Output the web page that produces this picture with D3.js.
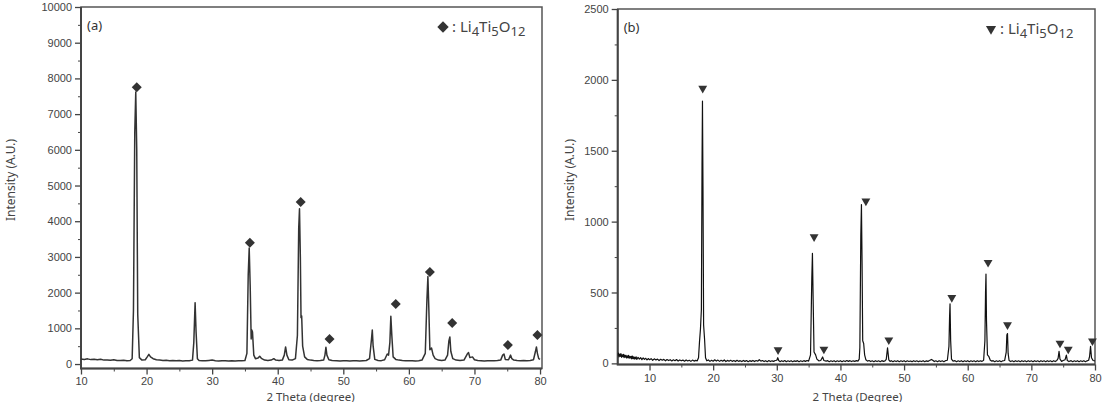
<!DOCTYPE html>
<html>
<head>
<meta charset="utf-8">
<script src="https://cdn.jsdelivr.net/npm/d3@7"></script>
<style>
  body { margin: 0; background: #fff; }
  svg { display: block; font-family: "Noto Sans", "Open Sans", sans-serif; }
  .tick text { fill: #444; font-size: 11px; }
  .tick line { stroke: #444; }
</style>
</head>
<body>
<div id="chart"></div>
<script>
// XRD patterns: [2 theta, intensity]
var profileA = [
  [10.0,140],[10.5,128],[11.0,145],[11.5,124],[12.0,132],[12.5,118],[13.0,134],[13.5,110],[14.0,116],[14.5,104],
  [15.0,120],[15.5,100],[16.0,96],[16.5,106],[17.0,90],[17.5,100],[17.8,150],[18.0,1500],[18.2,6500],[18.35,7620],
  [18.5,6000],[18.65,1400],[18.9,180],[19.3,110],[19.8,120],[20.1,200],[20.35,270],[20.6,200],[21.0,150],[21.5,120],
  [22.0,110],[22.5,100],[23.0,106],[23.5,94],[24.0,100],[24.5,90],[25.0,96],[25.5,88],[26.0,95],[26.5,90],
  [27.0,110],[27.2,600],[27.4,1720],[27.55,900],[27.75,150],[28.0,100],[28.5,94],[29.0,90],[29.5,100],[30.0,110],
  [30.5,95],[31.0,88],[31.5,95],[32.0,90],[32.5,84],[33.0,92],[33.5,88],[34.0,95],[34.5,90],[35.0,100],
  [35.3,300],[35.5,2500],[35.65,3250],[35.8,2200],[35.95,700],[36.05,950],[36.15,900],[36.35,250],[36.6,150],[37.0,170],
  [37.25,220],[37.5,160],[38.0,110],[38.5,100],[39.0,110],[39.4,150],[39.7,110],[40.2,100],[40.7,110],[41.0,250],
  [41.2,480],[41.4,250],[41.7,120],[42.2,110],[42.7,150],[43.0,800],[43.2,3800],[43.32,4350],[43.45,3000],[43.55,1300],
  [43.65,1350],[43.8,500],[44.1,200],[44.5,130],[45.0,110],[45.5,100],[46.0,95],[46.5,100],[47.0,110],[47.2,250],
  [47.35,470],[47.5,250],[47.8,120],[48.3,100],[49.0,95],[49.5,88],[50.0,95],[50.5,90],[51.0,84],[51.5,90],
  [52.0,95],[52.5,88],[53.0,95],[53.5,100],[54.0,150],[54.3,700],[54.42,950],[54.55,500],[54.8,130],[55.3,100],
  [55.8,95],[56.3,120],[56.7,280],[56.9,250],[57.1,600],[57.25,1340],[57.4,800],[57.6,200],[58.0,130],[58.5,110],
  [59.0,100],[59.5,95],[60.0,90],[60.5,95],[61.0,88],[61.5,95],[62.0,110],[62.5,300],[62.75,1800],[62.9,2450],
  [63.05,1500],[63.2,400],[63.45,450],[63.7,250],[64.0,150],[64.5,110],[65.0,100],[65.5,110],[65.9,250],[66.1,650],
  [66.25,760],[66.4,350],[66.7,150],[67.2,110],[67.8,100],[68.4,110],[68.9,280],[69.1,320],[69.3,180],[69.7,200],
  [70.0,120],[70.5,100],[71.0,95],[71.5,88],[72.0,95],[72.5,90],[73.0,95],[73.5,100],[74.0,110],[74.3,250],
  [74.5,280],[74.7,130],[75.2,120],[75.5,250],[75.7,150],[76.0,110],[76.5,100],[77.0,95],[77.5,100],[78.0,95],
  [78.5,100],[79.0,120],[79.3,350],[79.45,480],[79.6,300],[79.8,150],[80.0,130]
];
var markersA = [[18.5,7750],[35.75,3400],[43.5,4540],[47.9,700],[58.0,1680],[63.2,2580],[66.6,1150],[75.1,530],[79.6,810]];

var profileB = [
  [5.0,55],[5.1,72],[5.2,46],[5.3,66],[5.4,50],[5.5,69],[5.6,43],[5.7,61],[5.8,48],[5.9,63],
  [6.0,41],[6.1,59],[6.2,44],[6.3,56],[6.4,38],[6.5,53],[6.6,40],[6.7,57],[6.8,36],[6.9,50],
  [7.0,38],[7.1,49],[7.2,32],[7.3,52],[7.4,34],[7.5,46],[7.6,30],[7.7,44],[7.8,33],[7.9,46],
  [8.0,28],[8.2,42],[8.4,30],[8.6,40],[8.8,26],[9.0,38],[9.2,28],[9.4,36],[9.6,24],[9.8,34],
  [10.0,26],[10.25,33],[10.5,22],[10.75,32],[11.0,24],[11.25,30],[11.5,20],[11.75,29],[12.0,22],[12.25,28],
  [12.5,18],[12.75,27],[13.0,20],[13.25,26],[13.5,17],[13.75,25],[14.0,19],[14.25,27],[14.5,16],[14.75,24],
  [15.0,18],[15.25,23],[15.5,15],[15.75,24],[16.0,17],[16.25,22],[16.5,14],[16.75,23],[17.0,16],[17.25,21],
  [17.5,18],[17.7,40],[17.85,150],[18.0,240],[18.15,380],[18.25,1400],[18.32,1850],[18.4,1250],[18.5,270],[18.65,170],
  [18.8,40],[19.0,18],[19.25,24],[19.5,14],[19.75,22],[20.0,15],[20.25,25],[20.5,16],[20.75,23],[21.0,14],
  [21.25,22],[21.5,15],[21.75,24],[22.0,13],[22.25,21],[22.5,15],[22.75,22],[23.0,14],[23.25,20],[23.5,13],
  [23.75,22],[24.0,14],[24.25,19],[24.5,13],[24.75,21],[25.0,14],[25.25,20],[25.5,12],[25.75,19],[26.0,14],
  [26.25,21],[26.5,13],[26.75,20],[27.0,15],[27.25,26],[27.5,16],[27.75,20],[28.0,13],[28.25,19],[28.5,12],
  [28.75,20],[29.0,13],[29.25,18],[29.5,14],[29.75,20],[30.0,22],[30.15,40],[30.3,20],[30.5,12],[30.75,19],
  [31.0,13],[31.25,20],[31.5,12],[31.75,18],[32.0,13],[32.25,19],[32.5,12],[32.75,18],[33.0,14],[33.25,19],
  [33.5,12],[33.75,18],[34.0,13],[34.25,19],[34.5,14],[34.75,20],[35.0,16],[35.3,60],[35.5,600],[35.6,776],
  [35.7,480],[35.85,80],[36.1,60],[36.3,30],[36.6,18],[36.9,20],[37.2,45],[37.4,20],[37.75,16],[38.0,19],
  [38.25,12],[38.5,18],[38.75,13],[39.0,19],[39.25,12],[39.5,18],[39.75,13],[40.0,19],[40.25,12],[40.5,18],
  [40.75,13],[41.0,20],[41.25,14],[41.5,19],[41.75,13],[42.0,18],[42.25,14],[42.5,19],[42.75,16],[42.95,30],
  [43.05,110],[43.2,900],[43.3,1120],[43.4,700],[43.5,160],[43.65,140],[43.8,60],[44.0,25],[44.25,16],[44.5,20],
  [44.75,13],[45.0,18],[45.25,12],[45.5,19],[45.75,13],[46.0,18],[46.25,12],[46.5,19],[46.75,14],[47.0,18],
  [47.2,28],[47.4,110],[47.6,25],[47.8,14],[48.0,19],[48.25,12],[48.5,18],[48.75,13],[49.0,19],[49.25,12],
  [49.5,18],[49.75,13],[50.0,19],[50.25,12],[50.5,18],[50.75,13],[51.0,17],[51.25,12],[51.5,19],[51.75,13],
  [52.0,18],[52.25,12],[52.5,17],[52.75,13],[53.0,19],[53.25,12],[53.5,18],[53.75,14],[54.0,20],[54.3,28],
  [54.5,22],[54.75,13],[55.0,18],[55.25,12],[55.5,19],[55.75,13],[56.0,18],[56.25,12],[56.5,19],[56.8,22],
  [57.05,120],[57.15,330],[57.22,420],[57.32,160],[57.45,30],[57.7,16],[58.0,19],[58.25,12],[58.5,18],[58.75,13],
  [59.0,19],[59.25,12],[59.5,18],[59.75,13],[60.0,19],[60.25,12],[60.5,18],[60.75,13],[61.0,18],[61.25,12],
  [61.5,19],[61.75,13],[62.0,18],[62.25,14],[62.5,22],[62.7,160],[62.8,500],[62.87,630],[62.95,300],[63.1,60],
  [63.3,50],[63.55,22],[63.8,16],[64.0,19],[64.25,12],[64.5,18],[64.75,13],[65.0,19],[65.25,12],[65.5,18],
  [65.8,20],[66.05,80],[66.15,200],[66.25,210],[66.35,70],[66.5,20],[66.75,13],[67.0,18],[67.25,12],[67.5,19],
  [67.75,13],[68.0,18],[68.25,12],[68.5,19],[68.75,13],[69.0,18],[69.25,12],[69.5,19],[69.75,13],[70.0,18],
  [70.25,12],[70.5,19],[70.75,13],[71.0,18],[71.25,12],[71.5,19],[71.75,13],[72.0,18],[72.25,12],[72.5,19],
  [72.75,13],[73.0,18],[73.25,12],[73.5,19],[73.75,13],[74.0,20],[74.2,35],[74.35,85],[74.5,30],[74.75,14],
  [75.0,20],[75.3,26],[75.5,58],[75.65,20],[75.9,13],[76.25,19],[76.5,12],[76.75,18],[77.0,13],[77.25,19],
  [77.5,12],[77.75,18],[78.0,13],[78.25,19],[78.5,12],[78.75,18],[79.0,22],[79.15,50],[79.3,120],[79.45,40],
  [79.7,20],[80.0,18]
];
var markersB = [[18.36,1940],[30.2,95],[35.86,892],[37.4,100],[44.0,1145],[47.6,165],[57.5,464],[63.2,712],[66.25,272],[74.5,142],[75.8,100],[79.6,158]];

var xTicksA = [10,20,30,40,50,60,70,80];
var yTicksA = [0,1000,2000,3000,4000,5000,6000,7000,8000,9000,10000];
var xTicksB = [10,20,30,40,50,60,70,80];
var yTicksB = [0,500,1000,1500,2000,2500];

var svg = d3.select("#chart").append("svg")
  .attr("width", 1104)
  .attr("height", 402);

function drawPanel(p) {
  var x = d3.scaleLinear().domain(p.xDomain).range(p.xRange);
  var y = d3.scaleLinear().domain(p.yDomain).range(p.yRange);
  var g = svg.append("g");

  // clip so the pattern stays in the frame
  g.append("clipPath").attr("id", p.id + "clip")
    .append("rect")
    .attr("x", p.xRange[0]).attr("y", p.yRange[1])
    .attr("width", p.xRange[1] - p.xRange[0])
    .attr("height", p.yRange[0] - p.yRange[1]);

  // minor ticks
  g.append("g")
    .attr("transform", `translate(0,${p.yRange[0]})`)
    .call(d3.axisBottom(x).tickValues(p.xMinor).tickSize(3).tickFormat(""))
    .call(a => a.select(".domain").remove());
  g.append("g")
    .attr("transform", `translate(${p.xRange[0]},0)`)
    .call(d3.axisLeft(y).tickValues(p.yMinor).tickSize(3).tickFormat(""))
    .call(a => a.select(".domain").remove());

  // major ticks
  g.append("g")
    .attr("transform", `translate(0,${p.yRange[0]})`)
    .call(d3.axisBottom(x).tickValues(p.xTicks).tickSize(6).tickPadding(p.xPad).tickFormat(d3.format("d")))
    .call(a => a.select(".domain").remove())
    .selectAll("line").attr("stroke-width", 1.3);
  g.append("g")
    .attr("transform", `translate(${p.xRange[0]},0)`)
    .call(d3.axisLeft(y).tickValues(p.yTicks).tickSize(6).tickPadding(3).tickFormat(d3.format("d")))
    .call(a => a.select(".domain").remove())
    .selectAll("line").attr("stroke-width", 1.3);

  // frame
  g.append("rect")
    .attr("x", p.xRange[0]).attr("y", p.yRange[1])
    .attr("width", p.xRange[1] - p.xRange[0])
    .attr("height", p.yRange[0] - p.yRange[1])
    .attr("fill", "none").attr("stroke", "#555").attr("stroke-width", 1.5);
  g.append("path")
    .attr("d", `M${p.xRange[0]},${p.yRange[1]}V${p.yRange[0]}H${p.xRange[1]}`)
    .attr("fill", "none").attr("stroke", "#444").attr("stroke-width", 2);

  var line = d3.line().x(d => x(d[0])).y(d => y(d[1]));
  g.append("path")
    .datum(p.profile)
    .attr("clip-path", `url(#${p.id}clip)`)
    .attr("d", line)
    .attr("fill", "none")
    .attr("stroke", p.lineColor)
    .attr("stroke-width", p.lineWidth)
    .attr("stroke-linejoin", "round");

  // peak markers
  g.selectAll(".mk")
    .data(p.markers)
    .enter().append("path")
    .attr("transform", d => `translate(${x(d[0])},${y(d[1])}) rotate(${p.markerRotate})`)
    .attr("d", d3.symbol().type(p.markerType).size(p.markerSize))
    .attr("fill", "#333");

  // panel tag
  g.append("text")
    .attr("x", p.xRange[0] + 6).attr("y", p.yRange[1] + 23)
    .attr("font-size", 13).attr("fill", "#333")
    .text(p.tag);

  // legend
  var lx = p.legendX, ly = p.yRange[1] + 25;
  g.append("path")
    .attr("transform", `translate(${lx},${ly - 5}) rotate(${p.markerRotate})`)
    .attr("d", d3.symbol().type(p.markerType).size(p.markerSize * 1.3))
    .attr("fill", "#333");
  var t = g.append("text")
    .attr("x", lx + 9).attr("y", ly)
    .attr("font-size", 15).attr("fill", "#444");
  t.append("tspan").text(": Li");
  t.append("tspan").attr("dy", 4).attr("font-size", 13).text("4");
  t.append("tspan").attr("dy", -4).text("Ti");
  t.append("tspan").attr("dy", 4).attr("font-size", 13).text("5");
  t.append("tspan").attr("dy", -4).text("O");
  t.append("tspan").attr("dy", 4).attr("font-size", 13).text("12");

  // axis titles
  g.append("text")
    .attr("transform", `translate(${p.yTitleX},${p.yTitleY}) rotate(-90)`)
    .attr("text-anchor", "middle")
    .attr("font-size", 12).attr("fill", "#444")
    .text("Intensity (A.U.)");
  g.append("text")
    .attr("x", (p.xRange[0] + p.xRange[1]) / 2 + p.xTitleShift)
    .attr("y", p.xTitleY)
    .attr("text-anchor", "middle")
    .attr("font-size", 11.5).attr("fill", "#444")
    .text(p.xTitle);
}

drawPanel({
  id: "a", tag: "(a)",
  xDomain: [10, 80.3], xRange: [81, 542],
  yDomain: [-125, 10000], yRange: [368.5, 7],
  xTicks: xTicksA, xMinor: [15,25,35,45,55,65,75], xPad: 3,
  yTicks: yTicksA, yMinor: [500,1500,2500,3500,4500,5500,6500,7500,8500,9500],
  profile: profileA, lineColor: "#333", lineWidth: 1.5,
  markers: markersA, markerType: d3.symbolSquare, markerRotate: 45, markerSize: 50,
  legendX: 443, yTitleX: 15, yTitleY: 180,
  xTitle: "2 Theta (degree)", xTitleShift: -1, xTitleY: 400.5
});

drawPanel({
  id: "b", tag: "(b)",
  xDomain: [5, 80], xRange: [617.7, 1095],
  yDomain: [-8, 2500], yRange: [364.5, 9],
  xTicks: xTicksB, xMinor: [15,25,35,45,55,65,75], xPad: 4,
  yTicks: yTicksB, yMinor: [250,750,1250,1750,2250],
  profile: profileB, lineColor: "#111", lineWidth: 1.2,
  markers: markersB, markerType: d3.symbolTriangle, markerRotate: 180, markerSize: 34,
  legendX: 991, yTitleX: 574, yTitleY: 180,
  xTitle: "2 Theta (Degree)", xTitleShift: 1, xTitleY: 400.5
});
</script>
</body>
</html>
